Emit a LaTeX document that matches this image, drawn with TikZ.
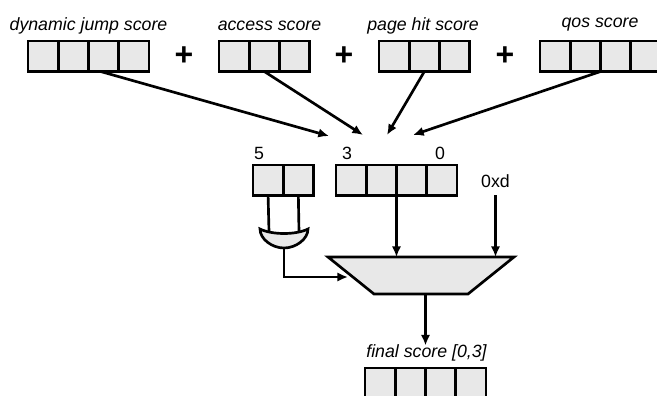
\documentclass[tikz,border=0pt]{standalone}
\usepackage{fontspec}
\setmainfont{Liberation Sans}
\usetikzlibrary{arrows.meta}
\definecolor{cellfill}{HTML}{E8E8E8}
\newcommand{\cellrow}[4]{% name, left x, top y, count
  \foreach \i in {1,...,#4}{
    \node[cell] (#1\i) at ({#2+15.1+30.25*(\i-1)},{#3+15.25}) {};
  }
}
\tikzset{
  cell/.style={draw=black,fill=cellfill,line width=2.2pt,minimum width=22.7pt,minimum height=22.9pt,inner sep=0pt,outer sep=0pt},
  arw/.style={line width=2pt,-{Latex[length=8pt,width=7pt]}},
  wire/.style={line width=2pt},
  lab/.style={font=\fontsize{13.3pt}{15pt}\selectfont\itshape,inner sep=0pt,text=black},
  num/.style={font=\fontsize{13.3pt}{15pt}\selectfont,inner sep=0pt,text=black},
  plus/.style={font=\fontsize{24pt}{26pt}\selectfont\bfseries,inner sep=0pt,text=black},
  gateshape/.style={draw=black,fill=cellfill,line width=2pt,line join=miter}
}
\begin{document}
\begin{tikzpicture}[x=0.75pt,y=-0.75pt]
\path[use as bounding box,clip] (0,0) rectangle (657,396);
% score registers
\cellrow{d}{28}{41}{4}
\cellrow{a}{219}{41}{3}
\cellrow{p}{379}{41}{3}
\cellrow{q}{540}{41}{4}
\cellrow{u}{253}{165}{2}
\cellrow{s}{336}{165}{4}
\cellrow{f}{365}{368}{4}
% labels
\node[lab] (ld) at (88.5,26) {dynamic jump score};
\node[lab] (la) at (269.5,26) {access score};
\node[lab] (lp) at (423,26) {page hit score};
\node[lab] (lq) at (600,25) {qos score};
\node[plus] (op1) at (184,56) {+};
\node[plus] (op2) at (344,56) {+};
\node[plus] (op3) at (505,56) {+};
\node[num] (n5) at (259,153) {5};
\node[num] (n3) at (347,153) {3};
\node[num] (n0) at (440,153) {0};
\node[num] (xd) at (495.5,181) {0xd};
\node[lab] (lf) at (426.5,353) {final score [0,3]};
% mux
\coordinate (mtl) at (328,257);
\coordinate (mtr) at (514,257);
\coordinate (mbr) at (468,294);
\coordinate (mbl) at (374,294);
\filldraw[gateshape] (mtl) -- (mtr) -- (mbr) -- (mbl) -- cycle;
% arrow ends above the adder result
\coordinate (t1) at (329,136);
\coordinate (t2) at (363,135);
\coordinate (t3) at (387,135);
\coordinate (t4) at (413,135);
\draw[arw] ([xshift=-2.25pt]d3.south) -- (t1);
\draw[arw] (a2.south) -- (t2);
\draw[arw] (p2.south) -- (t3);
\draw[arw] (q2.south east) -- (t4);
\draw[arw] (s2.south east) -- (s2.south east |- mtl);
\coordinate (xdb) at (495.5,195);
\draw[arw] (xdb) -- (xdb |- mtl);
\coordinate (mo) at (425.5,294);
\coordinate (mt) at (425.5,345.5);
\draw[arw] (mo) -- (mt);
% OR gate
\draw[wire] (u1.south) -- (269,232);
\draw[wire] (u2.south) -- (299,232);
\coordinate (go) at (284,248);
\coordinate (mi) at (348,277);
\filldraw[gateshape]
  (260,229) .. controls (272,235) and (296,235) .. (308,229)
  .. controls (308,239) and (296,248) .. (go)
  .. controls (272,248) and (260,239) .. (260,229) -- cycle;
\draw[arw] (go) -- (go |- mi) -- (mi);
\end{tikzpicture}
\end{document}
